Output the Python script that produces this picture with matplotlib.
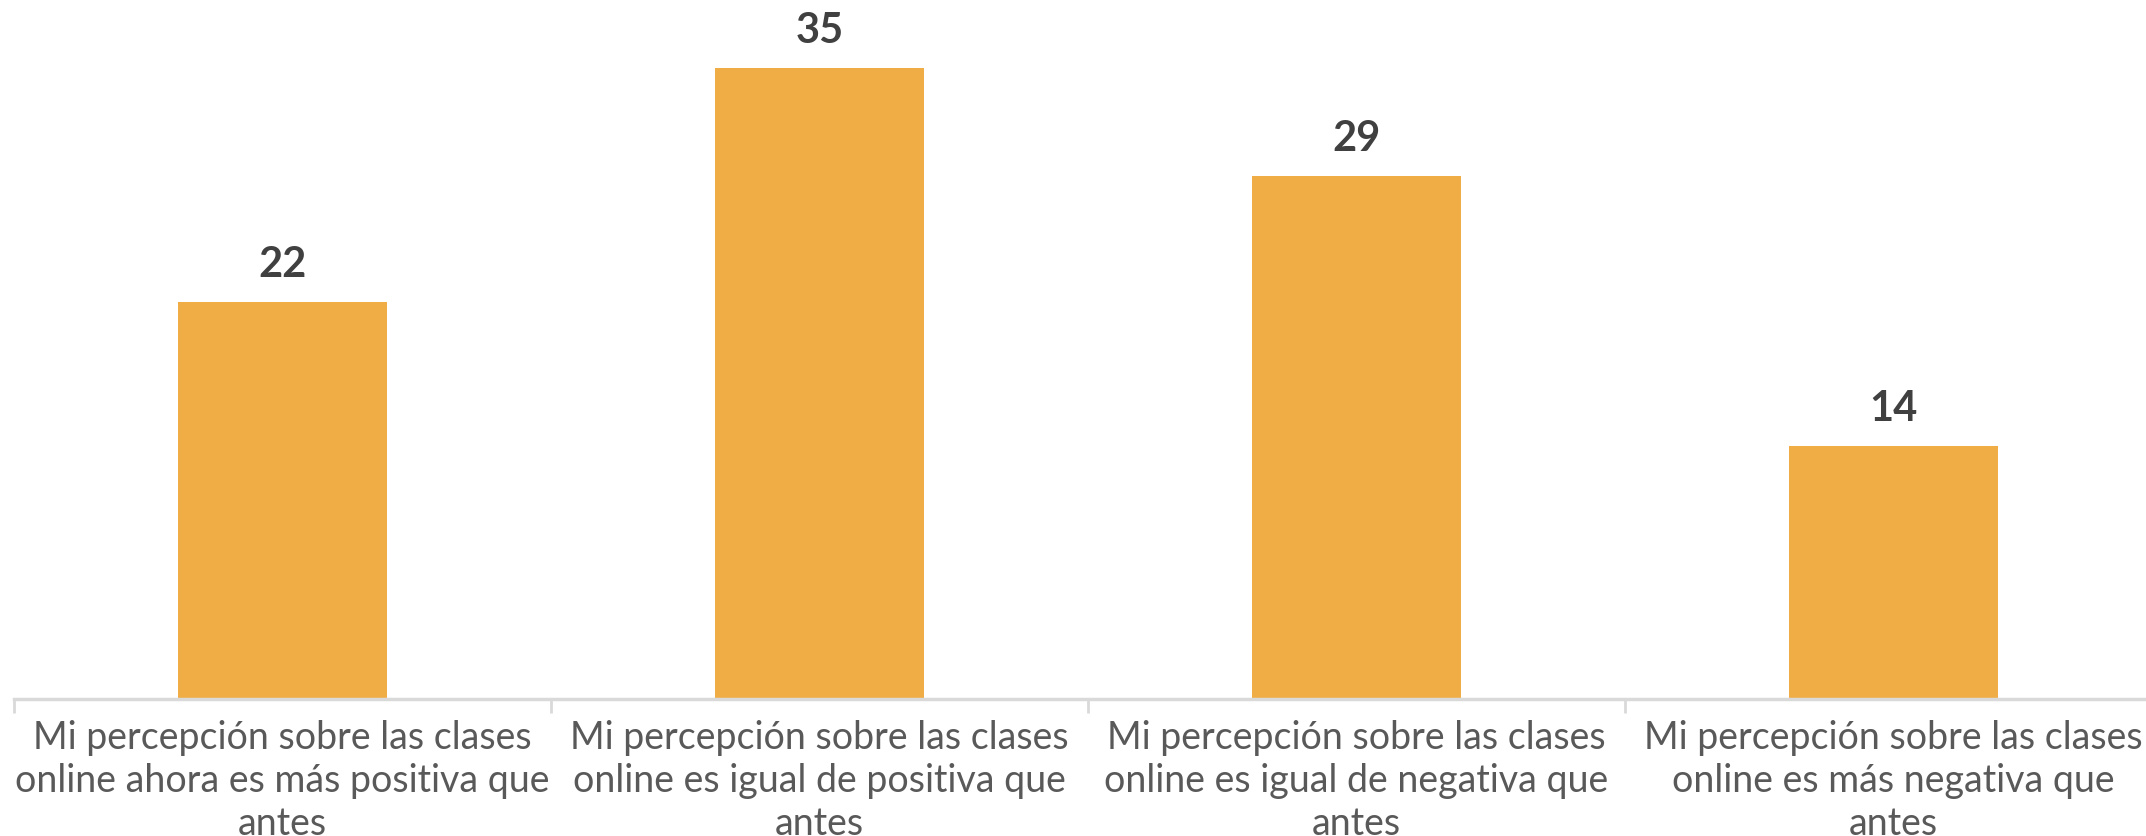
import matplotlib.pyplot as plt
from matplotlib.ticker import FixedLocator

categories = [
    "Mi percepción sobre las clases\nonline ahora es más positiva que\nantes",
    "Mi percepción sobre las clases\nonline es igual de positiva que\nantes",
    "Mi percepción sobre las clases\nonline es igual de negativa que\nantes",
    "Mi percepción sobre las clases\nonline es más negativa que\nantes",
]
values = [22, 35, 29, 14]

bar_color = "#F0AD45"
axis_color = "#D9D9D9"

fig = plt.figure(figsize=(21.46, 8.36), dpi=100)
ax = fig.add_axes([14 / 2146, 137 / 836, 2148 / 2146, 699 / 836])

x = list(range(len(values)))
bars = ax.bar(x, values, width=0.39, color=bar_color, zorder=2)
ax.bar_label(bars, labels=[str(v) for v in values], padding=13,
             fontsize=30, fontweight="bold", color="#404040", family="Lato")

ax.set_xlim(-0.5, 3.5)
ax.set_ylim(0, 38.75)
ax.set_xticks(x)
ax.set_xticklabels(categories, fontsize=27, color="#595959", family="Lato",
                   linespacing=1.25)
ax.tick_params(axis="x", which="major", length=0, pad=15)
ax.xaxis.set_minor_locator(FixedLocator([-0.5, 0.5, 1.5, 2.5, 3.5]))
ax.tick_params(axis="x", which="minor", length=10, width=2, color=axis_color)
ax.set_yticks([])

for side in ["top", "right", "left"]:
    ax.spines[side].set_visible(False)
ax.spines["bottom"].set_color(axis_color)
ax.spines["bottom"].set_linewidth(2.5)

fig.savefig("out.png", dpi=100)
